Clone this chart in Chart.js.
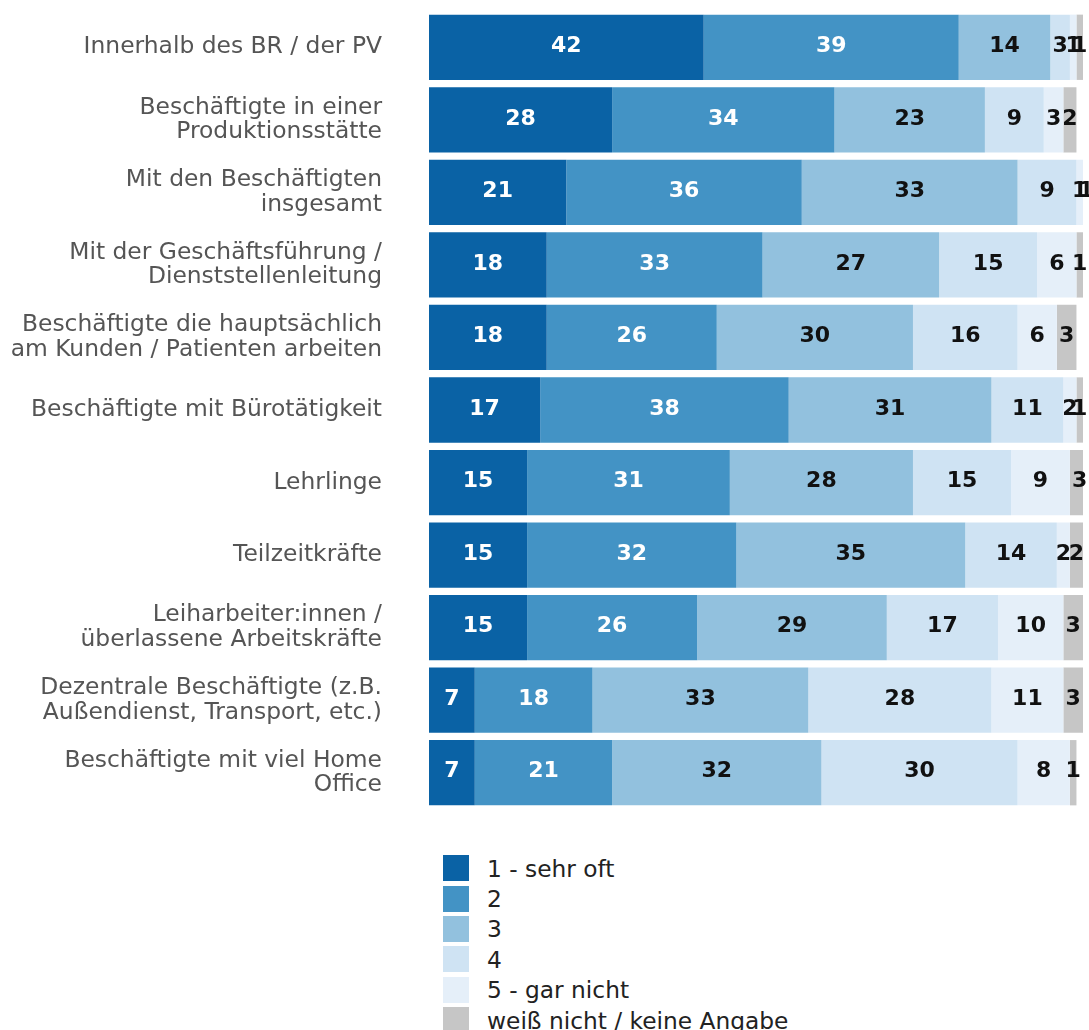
<!DOCTYPE html>
<html>
<head>
<meta charset="utf-8">
<script src="https://cdn.jsdelivr.net/npm/chart.js@4"></script>
<style>
    body { margin: 0; background: #fff; font-family: "DejaVu Sans", sans-serif; }
    #wrap { position: relative; width: 1089px; height: 1030px; }
    #chartBox { position: absolute; left: 0; top: 0; width: 1089px; height: 812px; }
    #legend { position: absolute; left: 443px; top: 853px; }
    .item { display: flex; align-items: center; height: 30.4px; }
    .box { width: 26px; height: 26px; margin-right: 18px; }
    .txt { font-size: 23.3px; color: #222; }
</style>
</head>
<body>
<div id="wrap">
    <div id="chartBox"><canvas id="myChart"></canvas></div>
    <div id="legend"></div>
</div>
<script>
const categories = [
    ['Innerhalb des BR / der PV'],
    ['Beschäftigte in einer', 'Produktionsstätte'],
    ['Mit den Beschäftigten', 'insgesamt'],
    ['Mit der Geschäftsführung /', 'Dienststellenleitung'],
    ['Beschäftigte die hauptsächlich', 'am Kunden / Patienten arbeiten'],
    ['Beschäftigte mit Bürotätigkeit'],
    ['Lehrlinge'],
    ['Teilzeitkräfte'],
    ['Leiharbeiter:innen /', 'überlassene Arbeitskräfte'],
    ['Dezentrale Beschäftigte (z.B.', 'Außendienst, Transport, etc.)'],
    ['Beschäftigte mit viel Home', 'Office']
];

const seriesNames = ['1 - sehr oft', '2', '3', '4', '5 - gar nicht', 'weiß nicht / keine Angabe'];
const seriesColors = ['#0a62a5', '#4393c5', '#92c1de', '#cfe3f3', '#e5eff9', '#c6c6c6'];
const labelColors = ['#fff', '#fff', '#111', '#111', '#111', '#111'];

const sehrOft   = [42, 28, 21, 18, 18, 17, 15, 15, 15, 7, 7];
const zwei      = [39, 34, 36, 33, 26, 38, 31, 32, 26, 18, 21];
const drei      = [14, 23, 33, 27, 30, 31, 28, 35, 29, 33, 32];
const vier      = [3, 9, 9, 15, 16, 11, 15, 14, 17, 28, 30];
const garNicht  = [1, 3, 1, 6, 6, 2, 9, 2, 10, 11, 8];
const weissNich = [1, 2, 1, 1, 3, 1, 3, 2, 3, 3, 1];

const values = [sehrOft, zwei, drei, vier, garNicht, weissNich];

// Zahlen mittig in die Segmente schreiben
const segmentLabels = {
    id: 'segmentLabels',
    afterDatasetsDraw(chart) {
        const ctx = chart.ctx;
        ctx.save();
        ctx.font = 'bold 22px "DejaVu Sans"';
        ctx.textAlign = 'center';
        ctx.textBaseline = 'middle';
        chart.data.datasets.forEach(function (ds, i) {
            const meta = chart.getDatasetMeta(i);
            meta.data.forEach(function (bar, j) {
                const v = ds.data[j];
                if (!v) return;
                const p = bar.getCenterPoint();
                ctx.fillStyle = labelColors[i];
                ctx.fillText(v, p.x, p.y - 1);
            });
        });
        ctx.restore();
    }
};

const ctx = document.getElementById('myChart');

new Chart(ctx, {
    type: 'bar',
    data: {
        labels: categories,
        datasets: values.map(function (d, i) {
            return {
                label: seriesNames[i],
                data: d,
                backgroundColor: seriesColors[i],
                borderWidth: 0,
                barPercentage: 0.9,
                categoryPercentage: 1
            };
        })
    },
    options: {
        indexAxis: 'y',
        responsive: true,
        maintainAspectRatio: false,
        animation: false,
        layout: { padding: { top: 11, right: 6, bottom: 3, left: 0 } },
        plugins: {
            legend: { display: false },
            tooltip: { enabled: false }
        },
        scales: {
            x: {
                stacked: true,
                display: false,
                min: 0,
                max: 100
            },
            y: {
                stacked: true,
                grid: { display: false, drawTicks: false },
                border: { display: false },
                ticks: {
                    padding: 47,
                    color: '#555',
                    font: { family: 'DejaVu Sans', size: 23.4, lineHeight: 1.05 }
                },
                afterFit: function (scale) {
                    // keine Extra-Abstände oben/unten durch das Tick-Padding
                    scale.width = 429;
                    scale.paddingTop = 0;
                    scale.paddingBottom = 0;
                }
            }
        }
    },
    plugins: [segmentLabels]
});

// Legende untereinander
let r = '';
for (let i = 0; i < seriesNames.length; i++) {
    r += '<div class="item"><span class="box" style="background:' + seriesColors[i] + '"></span>' +
        '<span class="txt">' + seriesNames[i] + '</span></div>';
}
document.getElementById('legend').innerHTML = r;
</script>
</body>
</html>
